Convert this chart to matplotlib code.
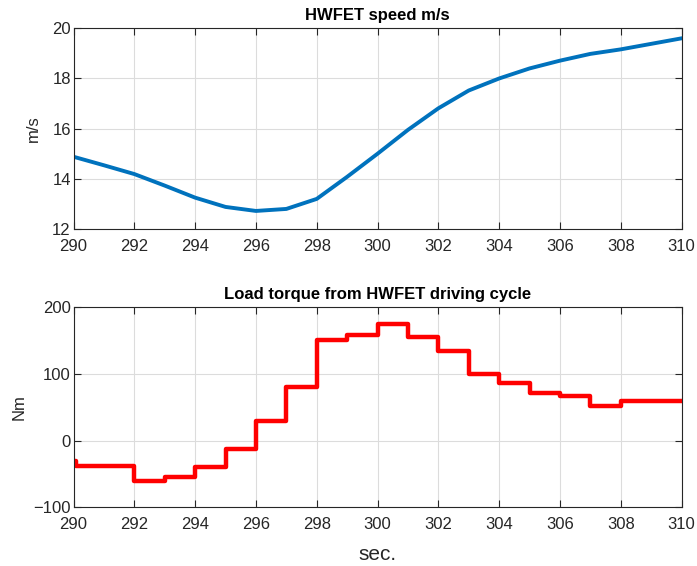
import numpy as np
import matplotlib
matplotlib.use('Agg')
from matplotlib import pyplot as plt

# speed samples (m/s) at integer seconds
t_speed = [290, 291, 292, 293, 294, 295, 296, 297, 298, 299, 300,
           301, 302, 303, 304, 305, 306, 307, 308, 309, 310]
speed = [14.88, 14.54, 14.19, 13.73, 13.25, 12.88, 12.72, 12.8, 13.2, 14.08, 15.0,
         15.95, 16.81, 17.52, 18.0, 18.4, 18.71, 18.98, 19.16, 19.38, 19.6]

# load torque (Nm), piecewise constant from each time stamp
t_torque = [290, 290.08, 292, 293, 294, 295, 296, 297, 298, 299,
            300, 301, 302, 303, 304, 305, 306, 307, 308, 310]
torque = [-31, -38, -60.5, -54.5, -40, -12, 29.5, 80, 151, 158.5,
          174.5, 155, 135, 100, 86, 72, 66.5, 52.5, 59.5, 60]

xticks = np.arange(290, 311, 2)

plt.rcParams['font.family'] = ['Liberation Sans', 'DejaVu Sans']
dark = '#262626'

fig = plt.figure(figsize=(6.97, 5.66), dpi=100)
ax1 = fig.add_axes([0.1055, 0.5954, 0.8723, 0.3546])
ax2 = fig.add_axes([0.1055, 0.1037, 0.8723, 0.3533])


def style(ax):
    ax.set_xlim(290, 310)
    ax.set_xticks(xticks)
    ax.grid(True, color='#dcdcdc', linewidth=0.8)
    ax.set_axisbelow(True)
    ax.tick_params(direction='in', length=5, width=0.8, colors=dark,
                   labelsize=12, top=True, right=True)
    ax.tick_params(axis='x', pad=7)
    ax.tick_params(axis='y', pad=2)
    for sp in ax.spines.values():
        sp.set_color(dark)
        sp.set_linewidth(0.8)


ax1.plot(t_speed, speed, color='#0072BD', linewidth=2.8, solid_joinstyle='round')
style(ax1)
ax1.set_ylim(12, 20)
ax1.set_yticks([12, 14, 16, 18, 20])
ax1.set_ylabel('m/s', fontsize=12, color=dark, labelpad=8)
ax1.set_title('HWFET speed m/s', fontsize=12, fontweight='bold', pad=6)

ax2.plot(t_torque, torque, color='#FF0000', linewidth=3.2, drawstyle='steps-post')
style(ax2)
ax2.set_ylim(-100, 200)
ax2.set_yticks([-100, 0, 100, 200])
ax2.set_yticklabels(['\u2212100', '0', '100', '200'])
ax2.set_ylabel('Nm', fontsize=12, color=dark, labelpad=5)
ax2.set_xlabel('sec.', fontsize=15, color=dark, labelpad=9)
ax2.set_title('Load torque from HWFET driving cycle', fontsize=12, fontweight='bold', pad=6)

fig.savefig('out.png', dpi=100)
